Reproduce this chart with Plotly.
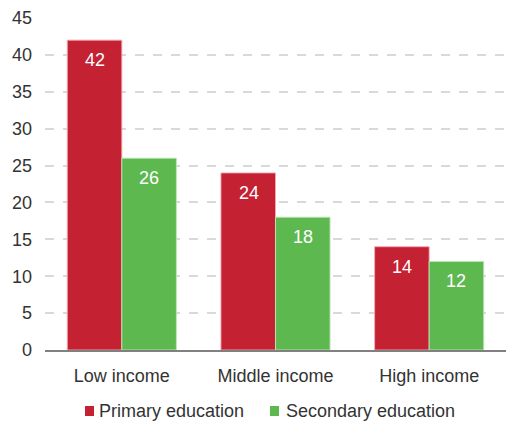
import plotly.graph_objects as go

categories = ["Low income", "Middle income", "High income"]
primary = [42, 24, 14]
secondary = [26, 18, 12]
series_names = ["Primary education", "Secondary education"]
y_ticks = [0, 5, 10, 15, 20, 25, 30, 35, 40, 45]

RED = "#C42133"
GREEN = "#5DB850"
FONT = "Liberation Sans, Arial, sans-serif"

W, H = 506, 421
ML, MR, MT, MB = 45, 0, 18, 71
PW = W - ML - MR
PH = H - MT - MB


def px_x(px):
    return (px - ML) / PW


def px_y(py):
    return (H - MB - py) / PH


fig = go.Figure()
series = [
    (series_names[0], primary, RED, "rgba(240,170,180,0.9)"),
    (series_names[1], secondary, GREEN, "rgba(190,230,185,0.9)"),
]
for name, vals, col, edge in series:
    fig.add_trace(go.Bar(
        x=categories, y=vals, name=name,
        marker=dict(color=col, line=dict(color=edge, width=1)),
        offsetgroup=name, showlegend=False,
    ))

# value labels sit inside each bar, just below its top
annotations = []
for i, cat in enumerate(categories):
    for j, (_, vals, _, _) in enumerate(series):
        annotations.append(dict(
            x=cat, y=vals[i], xref="x", yref="y", text=str(vals[i]),
            showarrow=False, yshift=-20, xshift=(-27 if j == 0 else 27),
            font=dict(family=FONT, size=18, color="white"),
        ))

# legend row under the axis: coloured squares followed by series names
shapes = []
legend_pos = [(85, 97), (270, 284)]
for (sq_x, tx_x), (name, _, col, _) in zip(legend_pos, series):
    shapes.append(dict(
        type="rect", xref="paper", yref="paper",
        x0=px_x(sq_x), x1=px_x(sq_x + 9), y0=px_y(416), y1=px_y(406),
        fillcolor=col, line=dict(width=0),
    ))
    annotations.append(dict(
        x=px_x(tx_x), y=px_y(411), xref="paper", yref="paper",
        xanchor="left", yanchor="middle", text=name, showarrow=False,
        font=dict(family=FONT, size=18, color="#333333"),
    ))

fig.update_layout(
    width=W, height=H,
    margin=dict(l=ML, r=MR, t=MT, b=MB),
    paper_bgcolor="white", plot_bgcolor="white",
    barmode="group", bargap=0.29, bargroupgap=0,
    font=dict(family=FONT, color="#333333"),
    annotations=annotations, shapes=shapes,
    showlegend=False,
    xaxis=dict(
        showgrid=False, showline=True, linecolor="#808080", linewidth=2,
        ticks="", tickfont=dict(size=18, color="#333333"),
        ticklabelstandoff=8, automargin=False,
    ),
    yaxis=dict(
        range=[0, 45], tickvals=y_ticks, showline=False, zeroline=False,
        showgrid=True, gridcolor="#D9D9D9", gridwidth=1.5, griddash="dash",
        ticks="", tickfont=dict(size=18, color="#333333"),
        ticklabelstandoff=12, automargin=False,
    ),
)

fig.write_html("out.html")
